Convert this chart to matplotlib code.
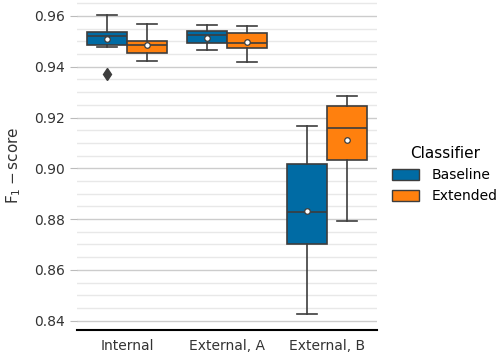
import numpy as np
import matplotlib
matplotlib.use('Agg')
from matplotlib import pyplot as plt
from matplotlib.patches import Patch
from matplotlib.ticker import MultipleLocator

# box statistics
datasets = ['Internal', 'External, A', 'External, B']
classifiers = ['Baseline', 'Extended']
colors = ['#006BA4', '#FF800E']

whislo = {'Baseline': [0.9476, 0.9464, 0.8426], 'Extended': [0.9424, 0.9420, 0.8793]}
q1     = {'Baseline': [0.9487, 0.9492, 0.8701], 'Extended': [0.9455, 0.9473, 0.9032]}
med    = {'Baseline': [0.9520, 0.9526, 0.8826], 'Extended': [0.9484, 0.9495, 0.9160]}
q3     = {'Baseline': [0.9536, 0.9542, 0.9018], 'Extended': [0.9502, 0.9532, 0.9245]}
whishi = {'Baseline': [0.9602, 0.9564, 0.9165], 'Extended': [0.9568, 0.9560, 0.9284]}
means  = {'Baseline': [0.9509, 0.9515, 0.8831], 'Extended': [0.9485, 0.9499, 0.9113]}
fliers = {'Baseline': [[0.9373], [], []], 'Extended': [[], [], []]}

line_c = '#3d3d3d'

fig = plt.figure(figsize=(4.98, 3.55), dpi=100)
ax = fig.add_axes([77/498, 1 - 329.5/355, 300/498, 328/355])

for j, cl in enumerate(classifiers):
    stats = []
    for i in range(len(datasets)):
        stats.append(dict(med=med[cl][i], q1=q1[cl][i], q3=q3[cl][i],
                          whislo=whislo[cl][i], whishi=whishi[cl][i],
                          mean=means[cl][i], fliers=fliers[cl][i]))
    pos = np.arange(len(datasets)) + (j - 0.5) * 0.4
    ax.bxp(stats, positions=pos, widths=0.4, patch_artist=True, showmeans=True,
           boxprops=dict(facecolor=colors[j], edgecolor=line_c, linewidth=1.2),
           medianprops=dict(color=line_c, linewidth=1.2),
           whiskerprops=dict(color=line_c, linewidth=1.2),
           capprops=dict(color=line_c, linewidth=1.2),
           meanprops=dict(marker='o', markerfacecolor='white', markeredgecolor=line_c,
                          markersize=4, markeredgewidth=0.9),
           flierprops=dict(marker='d', markerfacecolor=line_c, markeredgecolor=line_c,
                           markersize=6),
           capwidths=0.2, manage_ticks=False, zorder=3)

ax.set_xlim(-0.5, 2.5)
ax.set_ylim(0.8365, 0.9657)
ax.set_xticks(range(len(datasets)))
ax.set_xticklabels(datasets, fontsize=10, color='#333333')
ax.yaxis.set_major_locator(MultipleLocator(0.02))
ax.yaxis.set_minor_locator(MultipleLocator(0.005))
ax.set_yticks(np.arange(0.84, 0.961, 0.02))
ax.set_yticklabels(['%.2f' % v for v in np.arange(0.84, 0.961, 0.02)], fontsize=10, color='#333333')
ax.tick_params(axis='x', length=0, pad=7)
ax.tick_params(axis='y', which='major', length=5, color='#bbbbbb', pad=4)
ax.tick_params(axis='y', which='minor', length=0)
ax.grid(True, axis='y', which='major', color='#cccccc', linewidth=1.0, zorder=0)
ax.grid(True, axis='y', which='minor', color='#e8e8e8', linewidth=1.0, zorder=0)
ax.set_axisbelow(True)
for s in ['top', 'right', 'left']:
    ax.spines[s].set_visible(False)
ax.spines['bottom'].set_color('black')
ax.spines['bottom'].set_linewidth(1.5)
ax.set_ylabel(r'$\mathrm{F}_1 - \mathrm{score}$', fontsize=11, color='#333333', labelpad=8)

handles = [Patch(facecolor=colors[j], edgecolor=line_c, linewidth=1.0, label=cl)
           for j, cl in enumerate(classifiers)]
leg = ax.legend(handles=handles, title='Classifier', loc='center left',
                bbox_to_anchor=(1.007, 0.472), frameon=False, fontsize=10,
                title_fontsize=11, handlelength=2.0, handleheight=0.9,
                handletextpad=0.9)

fig.savefig('out.png', dpi=100)
